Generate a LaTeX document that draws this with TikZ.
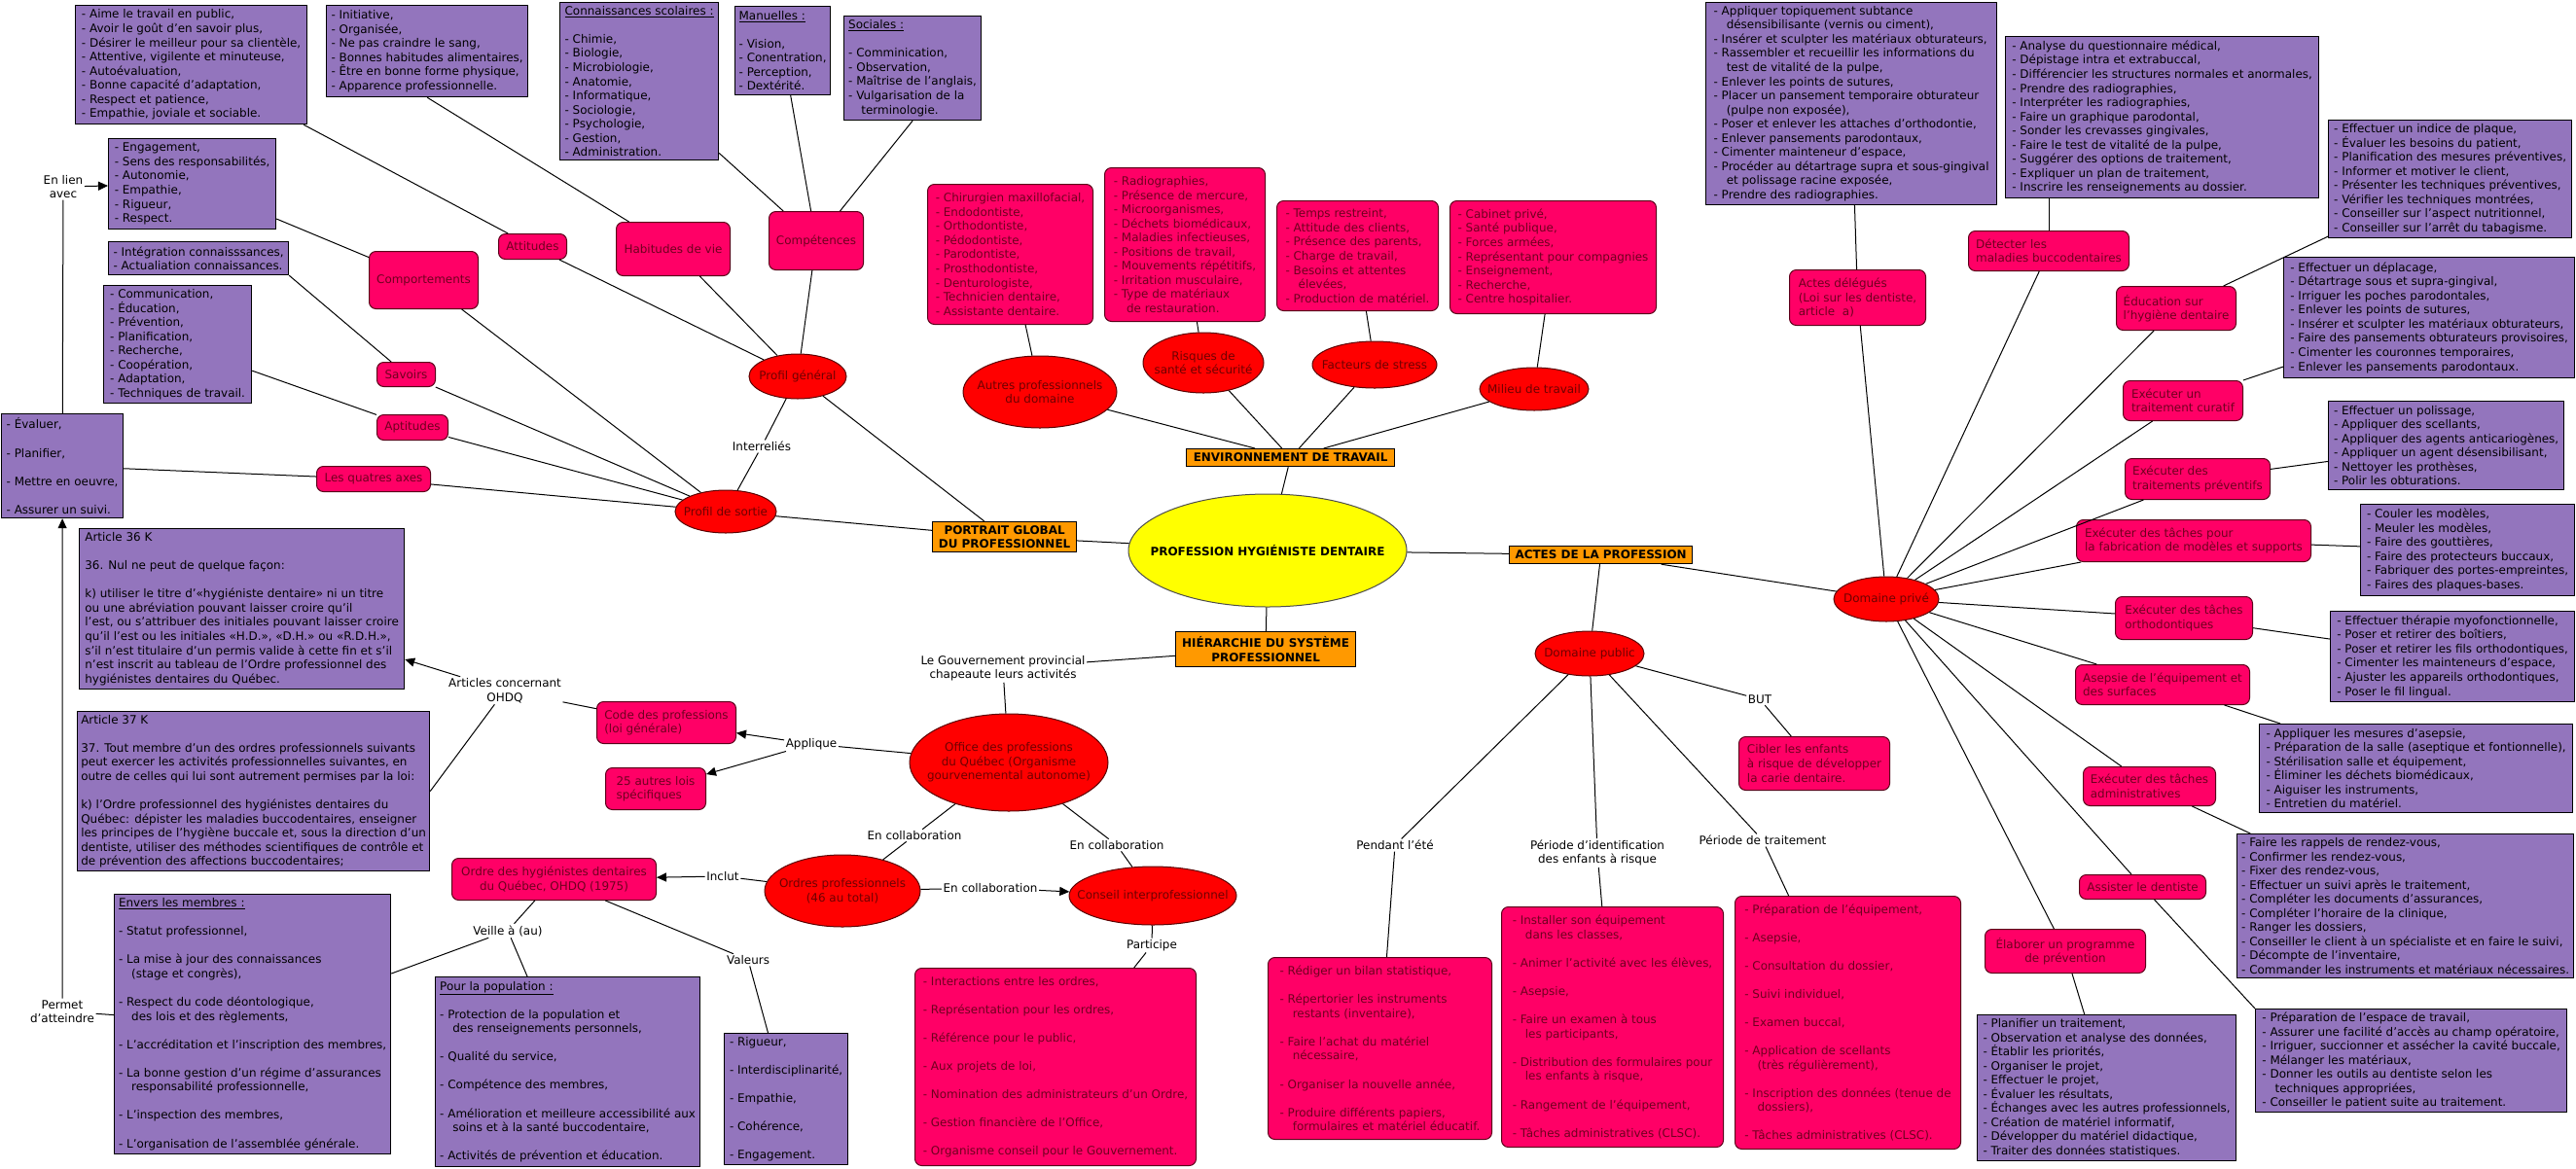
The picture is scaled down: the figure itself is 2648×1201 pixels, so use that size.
\documentclass[tikz,border=0pt]{standalone}
\usepackage{fontspec}
\setmainfont{DejaVu Sans}
\usetikzlibrary{shapes.geometric,arrows.meta}
\definecolor{cPurp}{RGB}{147,117,189}
\definecolor{cPink}{RGB}{255,0,102}
\definecolor{cPinkTxt}{RGB}{110,0,30}
\definecolor{cPinkBd}{RGB}{90,0,25}
\definecolor{cRed}{RGB}{255,0,0}
\definecolor{cRedTxt}{RGB}{110,0,0}
\definecolor{cRedBd}{RGB}{90,0,0}
\definecolor{cOrange}{RGB}{255,153,0}
\definecolor{cYellow}{RGB}{255,255,0}
\newcommand{\BL}{\\[14.6pt]}
\newcommand{\ind}{\hspace*{1.1em}}
\newcommand{\PB}[7]{%
  \pgfmathsetmacro{\myW}{#5-#3}%
  \pgfmathsetmacro{\myH}{#6-#4}%
  \node[#1, anchor=north west, minimum width=\myW bp, minimum height=\myH bp] (#2) at (#3,#4) {#7};%
}
\newcommand{\EL}[6]{%
  \node[ell, minimum width=#4bp, minimum height=#5bp] (#1) at (#2,#3) {};%
  \node[eltxt] (#1T) at (#1.center) {#6};%
}
\begin{document}
\begin{tikzpicture}[x=1bp,y=-1bp,
  base/.style={font=\fontsize{12}{14.6}\selectfont},
  purp/.style={base,draw=black,fill=cPurp,line width=1.2bp,align=left,inner xsep=3bp,inner ysep=1.5bp},
  pk/.style={base,draw=cPinkBd,fill=cPink,text=cPinkTxt,rounded corners=7bp,line width=1bp,align=left,inner xsep=4bp,inner ysep=2bp},
  pkc/.style={pk,align=center},
  ell/.style={ellipse,draw=cRedBd,fill=cRed,line width=1bp,inner sep=0pt},
  eltxt/.style={base,text=cRedTxt,align=center,inner sep=0pt},
  orng/.style={draw=black,fill=cOrange,line width=1.2bp,font=\fontsize{12}{14.6}\selectfont\bfseries,align=center,inner sep=1bp},
  lab/.style={base,align=center,inner sep=1.5bp},
  con/.style={draw=black,line width=1bp},
  arr/.style={con,-{Triangle[length=10bp,width=9bp]}},
]
\fill[white] (0,0) rectangle (2648,1201);
\useasboundingbox (0,0) rectangle (2648,1201);

% ---------- left purple boxes
\PB{purp}{bA}{77}{5}{315}{127}{- Aime le travail en public,\\- Avoir le goût d'en savoir plus,\\- Désirer le meilleur pour sa clientèle,\\- Attentive, vigilente et minuteuse,\\- Autoévaluation,\\- Bonne capacité d'adaptation,\\- Respect et patience,\\- Empathie, joviale et sociable.}
\PB{purp}{bB}{335}{5}{542}{99}{- Initiative,\\- Organisée,\\- Ne pas craindre le sang,\\- Bonnes habitudes alimentaires,\\- Être en bonne forme physique,\\- Apparence professionnelle.}
\PB{purp}{bC}{575}{2}{738}{164}{\underline{Connaissances scolaires :}\BL- Chimie,\\- Biologie,\\- Microbiologie,\\- Anatomie,\\- Informatique,\\- Sociologie,\\- Psychologie,\\- Gestion,\\- Administration.}
\PB{purp}{bD}{755}{6}{853}{97}{\underline{Manuelles :}\BL- Vision,\\- Conentration,\\- Perception,\\- Dextérité.}
\PB{purp}{bE}{867}{16}{1008}{123}{\underline{Sociales :}\BL- Comminication,\\- Observation,\\- Maîtrise de l'anglais,\\- Vulgarisation de la\\\ind terminologie.}
\PB{purp}{bF}{111}{142}{283}{235}{- Engagement,\\- Sens des responsabilités,\\- Autonomie,\\- Empathie,\\- Rigueur,\\- Respect.}
\PB{purp}{bG}{111}{248}{296}{282}{- Intégration connaisssances,\\- Actualiation connaissances.}
\PB{purp}{bH}{106}{293}{258}{414}{- Communication,\\- Éducation,\\- Prévention,\\- Planification,\\- Recherche,\\- Coopération,\\- Adaptation,\\- Techniques de travail.}
\PB{purp}{bI}{1}{425}{126}{532}{- Évaluer,\BL- Planifier,\BL- Mettre en oeuvre,\BL- Assurer un suivi.}
\PB{purp}{bJ}{81}{543}{415}{708}{Article 36 K\BL 36. Nul ne peut de quelque façon:\BL k) utiliser le titre d'«hygiéniste dentaire» ni un titre\\ou une abréviation pouvant laisser croire qu'il\\l'est, ou s'attribuer des initiales pouvant laisser croire\\qu'il l'est ou les initiales «H.D.», «D.H.» ou «R.D.H.»,\\s'il n'est titulaire d'un permis valide à cette fin et s'il\\n'est inscrit au tableau de l'Ordre professionnel des\\hygiénistes dentaires du Québec.}
\PB{purp}{bK}{79}{731}{441}{895}{Article 37 K\BL 37. Tout membre d'un des ordres professionnels suivants\\peut exercer les activités professionnelles suivantes, en\\outre de celles qui lui sont autrement permises par la loi:\BL k) l'Ordre professionnel des hygiénistes dentaires du\\Québec: dépister les maladies buccodentaires, enseigner\\les principes de l'hygiène buccale et, sous la direction d'un\\dentiste, utiliser des méthodes scientifiques de contrôle et\\de prévention des affections buccodentaires;}
\PB{purp}{bL}{117}{919}{401}{1186}{\underline{Envers les membres :}\BL- Statut professionnel,\BL- La mise à jour des connaissances\\\ind (stage et congrès),\BL- Respect du code déontologique,\\\ind des lois et des règlements,\BL- L'accréditation et l'inscription des membres,\BL- La bonne gestion d'un régime d'assurances\\\ind responsabilité professionnelle,\BL- L'inspection des membres,\BL- L'organisation de l'assemblée générale.}
\PB{purp}{bM}{447}{1004}{719}{1199}{\underline{Pour la population :}\BL- Protection de la population et\\\ind des renseignements personnels,\BL- Qualité du service,\BL- Compétence des membres,\BL- Amélioration et meilleure accessibilité aux\\\ind soins et à la santé buccodentaire,\BL- Activités de prévention et éducation.}
\PB{purp}{bN}{744}{1062}{871}{1197}{- Rigueur,\BL- Interdisciplinarité,\BL- Empathie,\BL- Cohérence,\BL- Engagement.}

% ---------- pink nodes left / middle
\PB{pkc}{attit}{512}{240}{582}{266}{Attitudes}
\PB{pkc}{habit}{633}{228}{750}{283}{Habitudes de vie}
\PB{pkc}{compet}{790}{217}{887}{277}{Compétences}
\PB{pkc}{comport}{379}{258}{491}{317}{Comportements}
\PB{pkc}{savoirs}{387}{372}{447}{397}{Savoirs}
\PB{pkc}{aptit}{387}{426}{460}{452}{Aptitudes}
\PB{pkc}{axes}{325}{479}{442}{505}{Les quatres axes}
\PB{pk}{chir}{953}{189}{1123}{333}{- Chirurgien maxillofacial,\\- Endodontiste,\\- Orthodontiste,\\- Pédodontiste,\\- Parodontiste,\\- Prosthodontiste,\\- Denturologiste,\\- Technicien dentaire,\\- Assistante dentaire.}
\PB{pk}{radio}{1135}{172}{1300}{330}{- Radiographies,\\- Présence de mercure,\\- Microorganismes,\\- Déchets biomédicaux,\\- Maladies infectieuses,\\- Positions de travail,\\- Mouvements répétitifs,\\- Irritation musculaire,\\- Type de matériaux\\\ind de restauration.}
\PB{pk}{temps}{1312}{206}{1478}{319}{- Temps restreint,\\- Attitude des clients,\\- Présence des parents,\\- Charge de travail,\\- Besoins et attentes\\\ind élevées,\\- Production de matériel.}
\PB{pk}{cabinet}{1490}{206}{1702}{322}{- Cabinet privé,\\- Santé publique,\\- Forces armées,\\- Représentant pour compagnies\\- Enseignement,\\- Recherche,\\- Centre hospitalier.}
\PB{pk}{code}{613}{721}{756}{764}{Code des professions\\(loi générale)}
\PB{pk}{lois}{622}{789}{725}{832}{25 autres lois\\spécifiques}
\PB{pkc}{ohdq}{464}{882}{674}{925}{Ordre des hygiénistes dentaires\\du Québec, OHDQ (1975)}
\PB{pk}{inter}{940}{995}{1229}{1198}{- Interactions entre les ordres,\BL- Représentation pour les ordres,\BL- Référence pour le public,\BL- Aux projets de loi,\BL- Nomination des administrateurs d'un Ordre,\BL- Gestion financière de l'Office,\BL- Organisme conseil pour le Gouvernement.}
\PB{pk}{rediger}{1303}{984}{1533}{1171}{- Rédiger un bilan statistique,\BL- Répertorier les instruments\\\ind restants (inventaire),\BL- Faire l'achat du matériel\\\ind nécessaire,\BL- Organiser la nouvelle année,\BL- Produire différents papiers,\\\ind formulaires et matériel éducatif.}
\PB{pk}{install}{1543}{932}{1771}{1179}{- Installer son équipement\\\ind dans les classes,\BL- Animer l'activité avec les élèves,\BL- Asepsie,\BL- Faire un examen à tous\\\ind les participants,\BL- Distribution des formulaires pour\\\ind les enfants à risque,\BL- Rangement de l'équipement,\BL- Tâches administratives (CLSC).}
\PB{pk}{prepeq}{1783}{921}{2015}{1181}{- Préparation de l'équipement,\BL- Asepsie,\BL- Consultation du dossier,\BL- Suivi individuel,\BL- Examen buccal,\BL- Application de scellants\\\ind (très régulièrement),\BL- Inscription des données (tenue de\\\ind dossiers),\BL- Tâches administratives (CLSC).}
\PB{pk}{cibler}{1787}{757}{1942}{812}{Cibler les enfants\\à risque de développer\\la carie dentaire.}

% ---------- pink nodes right
\PB{pk}{actdel}{1839}{277}{1979}{334}{Actes délégués\\(Loi sur les dentiste,\\article\ \ a)}
\PB{pk}{detect}{2023}{237}{2188}{278}{Détecter les\\maladies buccodentaires}
\PB{pk}{educ}{2175}{294}{2298}{339}{Éducation sur\\l'hygiène dentaire}
\PB{pk}{curatif}{2182}{391}{2305}{432}{Exécuter un\\traitement curatif}
\PB{pk}{prevent}{2184}{471}{2333}{513}{Exécuter des\\traitements préventifs}
\PB{pk}{modeles}{2134}{534}{2375}{577}{Exécuter des tâches pour\\la fabrication de modèles et supports}
\PB{pk}{ortho}{2174}{613}{2315}{657}{Exécuter des tâches\\orthodontiques}
\PB{pk}{asep}{2133}{683}{2312}{724}{Asepsie de l'équipement et\\des surfaces}
\PB{pk}{admin}{2141}{788}{2277}{828}{Exécuter des tâches\\administratives}
\PB{pkc}{assist}{2137}{899}{2267}{924}{Assister le dentiste}
\PB{pkc}{elab}{2040}{955}{2205}{1000}{Élaborer un programme\\de prévention}

% ---------- right purple boxes
\PB{purp}{rA}{1753}{2}{2052}{210}{- Appliquer topiquement subtance\\\ind désensibilisante (vernis ou ciment),\\- Insérer et sculpter les matériaux obturateurs,\\- Rassembler et recueillir les informations du\\\ind test de vitalité de la pulpe,\\- Enlever les points de sutures,\\- Placer un pansement temporaire obturateur\\\ind (pulpe non exposée),\\- Poser et enlever les attaches d'orthodontie,\\- Enlever pansements parodontaux,\\- Cimenter mainteneur d'espace,\\- Procéder au détartrage supra et sous-gingival\\\ind et polissage racine exposée,\\- Prendre des radiographies.}
\PB{purp}{rB}{2061}{37}{2383}{203}{- Analyse du questionnaire médical,\\- Dépistage intra et extrabuccal,\\- Différencier les structures normales et anormales,\\- Prendre des radiographies,\\- Interpréter les radiographies,\\- Faire un graphique parodontal,\\- Sonder les crevasses gingivales,\\- Faire le test de vitalité de la pulpe,\\- Suggérer des options de traitement,\\- Expliquer un plan de traitement,\\- Inscrire les renseignements au dossier.}
\PB{purp}{rC}{2393}{123}{2643}{244}{- Effectuer un indice de plaque,\\- Évaluer les besoins du patient,\\- Planification des mesures préventives,\\- Informer et motiver le client,\\- Présenter les techniques préventives,\\- Vérifier les techniques montrées,\\- Conseiller sur l'aspect nutritionnel,\\- Conseiller sur l'arrêt du tabagisme.}
\PB{purp}{rD}{2347}{264}{2646}{388}{- Effectuer un déplacage,\\- Détartrage sous et supra-gingival,\\- Irriguer les poches parodontales,\\- Enlever les points de sutures,\\- Insérer et sculpter les matériaux obturateurs,\\- Faire des pansements obturateurs provisoires,\\- Cimenter les couronnes temporaires,\\- Enlever les pansements parodontaux.}
\PB{purp}{rE}{2393}{412}{2635}{503}{- Effectuer un polissage,\\- Appliquer des scellants,\\- Appliquer des agents anticariogènes,\\- Appliquer un agent désensibilisant,\\- Nettoyer les prothèses,\\- Polir les obturations.}
\PB{purp}{rF}{2426}{518}{2646}{612}{- Couler les modèles,\\- Meuler les modèles,\\- Faire des gouttières,\\- Faire des protecteurs buccaux,\\- Fabriquer des portes-empreintes,\\- Faires des plaques-bases.}
\PB{purp}{rG}{2395}{628}{2646}{721}{- Effectuer thérapie myofonctionnelle,\\- Poser et retirer des boîtiers,\\- Poser et retirer les fils orthodontiques,\\- Cimenter les mainteneurs d'espace,\\- Ajuster les appareils orthodontiques,\\- Poser le fil lingual.}
\PB{purp}{rH}{2322}{744}{2644}{835}{- Appliquer les mesures d'asepsie,\\- Préparation de la salle (aseptique et fontionnelle),\\- Stérilisation salle et équipement,\\- Éliminer les déchets biomédicaux,\\- Aiguiser les instruments,\\- Entretien du matériel.}
\PB{purp}{rI}{2299}{857}{2645}{1005}{- Faire les rappels de rendez-vous,\\- Confirmer les rendez-vous,\\- Fixer des rendez-vous,\\- Effectuer un suivi après le traitement,\\- Compléter les documents d'assurances,\\- Compléter l'horaire de la clinique,\\- Ranger les dossiers,\\- Conseiller le client à un spécialiste et en faire le suivi,\\- Décompte de l'inventaire,\\- Commander les instruments et matériaux nécessaires.}
\PB{purp}{rJ}{2318}{1037}{2638}{1143}{- Préparation de l'espace de travail,\\- Assurer une facilité d'accès au champ opératoire,\\- Irriguer, succionner et assécher la cavité buccale,\\- Mélanger les matériaux,\\- Donner les outils au dentiste selon les\\\ind techniques appropriées,\\- Conseiller le patient suite au traitement.}
\PB{purp}{rK}{2032}{1043}{2298}{1193}{- Planifier un traitement,\\- Observation et analyse des données,\\- Établir les priorités,\\- Organiser le projet,\\- Effectuer le projet,\\- Évaluer les résultats,\\- Échanges avec les autres professionnels,\\- Création de matériel informatif,\\- Développer du matériel didactique,\\- Traiter des données statistiques.}

% ---------- orange boxes
\PB{orng}{env}{1219}{461}{1433}{479}{ENVIRONNEMENT DE TRAVAIL}
\PB{orng}{portrait}{958}{536}{1106}{567}{PORTRAIT GLOBAL\\DU PROFESSIONNEL}
\PB{orng}{actes}{1551}{561}{1739}{579}{ACTES DE LA PROFESSION}
\PB{orng}{hier}{1208}{649}{1393}{685}{HIÉRARCHIE DU SYSTÈME\\PROFESSIONNEL}

% ---------- centre
\node[ellipse,draw=black!70,fill=cYellow,line width=1bp,inner sep=0pt,minimum width=286bp,minimum height=116bp] (center) at (1303,566) {};
\node[font=\fontsize{12}{14.6}\selectfont\bfseries,inner sep=0pt] (centerT) at (center.center) {PROFESSION HYGIÉNISTE DENTAIRE};

% ---------- red ellipses
\EL{pg}{820}{387}{100}{46}{Profil général}
\EL{ps}{746}{526}{104}{44}{Profil de sortie}
\EL{autres}{1069}{403}{158}{74}{Autres professionnels\\du domaine}
\EL{risques}{1237}{373}{124}{62}{Risques de\\santé et sécurité}
\EL{stress}{1413}{375}{128}{48}{Facteurs de stress}
\EL{milieu}{1577}{400}{112}{44}{Milieu de travail}
\EL{office}{1037}{784}{204}{100}{Office des professions\\du Québec (Organisme\\gourvenemental autonome)}
\EL{ordres}{866}{916}{160}{74}{Ordres professionnels\\(46 au total)}
\EL{conseil}{1185}{921}{172}{60}{Conseil interprofessionnel}
\EL{dpub}{1634}{672}{112}{46}{Domaine public}
\EL{dpriv}{1939}{616}{108}{46}{Domaine privé}

% ---------- labels
\node[lab] (lienavec) at (65,192) {En lien\\avec};
\node[lab] (permet) at (64,1040) {Permet\\d'atteindre};
\node[lab] (interr) at (783,459) {Interreliés};
\node[lab] (articles) at (519,710) {Articles concernant\\OHDQ};
\node[lab] (gouv) at (1031,687) {Le Gouvernement provincial\\chapeaute leurs activités};
\node[lab] (applique) at (834,765) {Applique};
\node[lab] (collabL) at (940,859) {En collaboration};
\node[lab] (collabR) at (1148,869) {En collaboration};
\node[lab] (inclut) at (743,901) {Inclut};
\node[lab] (collabM) at (1018,913) {En collaboration};
\node[lab] (participe) at (1184,972) {Participe};
\node[lab] (veille) at (522,957) {Veille à (au)};
\node[lab] (valeurs) at (769,987) {Valeurs};
\node[lab] (ete) at (1434,869) {Pendant l'été};
\node[lab] (ident) at (1642,877) {Période d'identification\\des enfants à risque};
\node[lab] (trait) at (1812,864) {Période de traitement};
\node[lab] (but) at (1809,719) {BUT};

% ---------- connectors
\draw[con] (bA) -- (attit);
\draw[con] (bB.south) -- (habit);
\draw[con] (bC) -- (compet);
\draw[con] (bD) -- (compet);
\draw[con] (bE.south) -- (compet);
\draw[con] (bF) -- (comport);
\draw[con] (bG.south east) -- (savoirs);
\draw[con] (bH) -- (aptit);
\draw[con] (bI) -- (axes);
\draw[con] (attit) -- (pg);
\draw[con] (habit) -- (pg);
\draw[con] (compet) -- (pg);
\draw[con] (comport) -- (ps);
\draw[con] (savoirs) -- (ps);
\draw[con] (aptit) -- (ps);
\draw[con] (axes) -- (ps);
\draw[con] (pg) -- (interr) -- (ps);
\draw[con] (pg) -- (portrait);
\draw[con] (ps) -- (portrait);
\draw[con] (portrait) -- (center);
\draw[con] (center) -- (env);
\draw[con] (env) -- (autres);
\draw[con] (env) -- (risques);
\draw[con] (env) -- (stress);
\draw[con] (env) -- (milieu);
\draw[con] (autres) -- (chir);
\draw[con] (risques) -- (radio);
\draw[con] (stress) -- (temps);
\draw[con] (milieu) -- (cabinet);
\draw[con] (center) -- (actes);
\draw[con] (actes) -- (dpub);
\draw[con] (actes) -- (dpriv);
\draw[con] (center) -- (hier);
\draw[con] (hier) -- (gouv) -- (office);
\draw[con] (office) -- (applique);
\draw[arr] (applique) -- (code);
\draw[arr] (applique) -- (lois);
\draw[con] (code) -- (articles);
\draw[arr] (articles) -- (bJ);
\draw[con] (articles) -- (bK.east);
\draw[con] (office) -- (collabL) -- (ordres);
\draw[con] (office) -- (collabR) -- (conseil);
\draw[con] (ordres) -- (inclut);
\draw[arr] (inclut) -- (ohdq);
\draw[con] (ordres) -- (collabM);
\draw[arr] (collabM) -- (conseil);
\draw[con] (conseil) -- (participe) -- (inter);
\draw[con] (ohdq) -- (veille);
\draw[con] (veille) -- (bL);
\draw[con] (veille) -- (bM);
\draw[con] (ohdq) -- (valeurs) -- (bN);
\draw[con] (bI) -- (lienavec);
\draw[arr] (lienavec) -- (bF);
\draw[arr] (permet) -- (bI);
\draw[con] (permet) -- (bL);
\draw[con] (dpub) -- (but) -- (cibler);
\draw[con] (dpub) -- (ete) -- (rediger);
\draw[con] (dpub) -- (ident) -- (install);
\draw[con] (dpub) -- (trait) -- (prepeq);
\draw[con] (dpriv) -- (actdel) -- (rA);
\draw[con] (dpriv) -- (detect);
\draw[con] (detect.north) -- (detect.north |- rB.south);
\draw[con] (dpriv) -- (educ) -- (rC);
\draw[con] (dpriv) -- (curatif) -- (rD);
\draw[con] (dpriv) -- (prevent) -- (rE);
\draw[con] (dpriv) -- (modeles) -- (rF);
\draw[con] (dpriv) -- (ortho) -- (rG);
\draw[con] (dpriv) -- (asep) -- (rH);
\draw[con] (dpriv) -- (admin) -- (rI);
\draw[con] (dpriv) -- (assist);
\draw[con] (assist) -- (rJ.north west);
\draw[con] (dpriv) -- (elab) -- (rK);
\end{tikzpicture}
\end{document}
